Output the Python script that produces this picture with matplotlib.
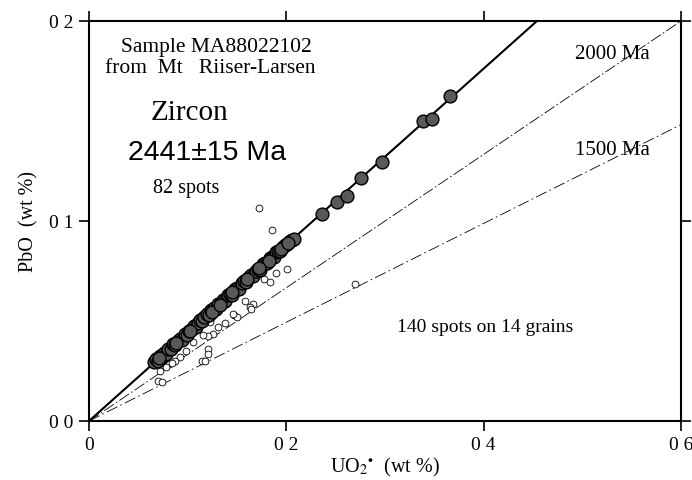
import matplotlib
matplotlib.use("Agg")
import matplotlib.pyplot as plt

plt.rcParams['font.family'] = ['Liberation Serif', 'DejaVu Serif']
plt.rcParams['mathtext.fontset'] = 'stix'

# Concordant zircon spots (filled)
filled_x = [0.066, 0.068, 0.070, 0.072, 0.074, 0.076, 0.078, 0.080, 0.083, 0.085,
            0.087, 0.090, 0.092, 0.094, 0.097, 0.099, 0.101, 0.104, 0.106, 0.108,
            0.110, 0.113, 0.115, 0.117, 0.120, 0.122, 0.124, 0.127, 0.129, 0.131,
            0.134, 0.136, 0.138, 0.141, 0.143, 0.145, 0.148, 0.150, 0.152, 0.155,
            0.157, 0.159, 0.162, 0.164, 0.166, 0.169, 0.171, 0.173, 0.176, 0.178,
            0.180, 0.183, 0.185, 0.187, 0.190, 0.192, 0.194, 0.197, 0.199, 0.201,
            0.204, 0.206, 0.208, 0.125, 0.133, 0.182, 0.195, 0.071, 0.088, 0.102,
            0.145, 0.160, 0.172, 0.202,
            0.236, 0.251, 0.261, 0.276, 0.297, 0.339, 0.348, 0.366]
filled_y = [0.0295, 0.0310, 0.0300, 0.0325, 0.0320, 0.0340, 0.0335, 0.0360, 0.0362, 0.0385,
            0.0378, 0.0400, 0.0412, 0.0405, 0.0435, 0.0430, 0.0452, 0.0460, 0.0475, 0.0468,
            0.0490, 0.0505, 0.0498, 0.0522, 0.0535, 0.0530, 0.0555, 0.0565, 0.0560, 0.0585,
            0.0592, 0.0605, 0.0600, 0.0628, 0.0635, 0.0632, 0.0658, 0.0665, 0.0662, 0.0690,
            0.0700, 0.0695, 0.0722, 0.0730, 0.0725, 0.0752, 0.0760, 0.0755, 0.0785, 0.0792,
            0.0788, 0.0815, 0.0822, 0.0818, 0.0845, 0.0852, 0.0848, 0.0872, 0.0880, 0.0885,
            0.0900, 0.0905, 0.0912, 0.0545, 0.0578, 0.0800, 0.0862, 0.0315, 0.0392, 0.0448,
            0.0645, 0.0710, 0.0765, 0.0892,
            0.1035, 0.1095, 0.1125, 0.1215, 0.1295, 0.1500, 0.1510, 0.1625]

# Other spots (open)
open_x = [0.172, 0.185, 0.190, 0.2006, 0.177, 0.183, 0.166, 0.163, 0.164, 0.147,
          0.150, 0.138, 0.131, 0.123, 0.126, 0.121, 0.116, 0.121, 0.121, 0.105,
          0.098, 0.092, 0.087, 0.081, 0.075, 0.072, 0.115, 0.118, 0.270, 0.070,
          0.074, 0.158, 0.146, 0.078, 0.084]
open_y = [0.1065, 0.0955, 0.0740, 0.0760, 0.0710, 0.0695, 0.0585, 0.0570, 0.0560, 0.0530,
          0.0520, 0.0490, 0.0470, 0.0495, 0.0435, 0.0425, 0.0430, 0.0360, 0.0335, 0.0395,
          0.0350, 0.0320, 0.0300, 0.0285, 0.0275, 0.0250, 0.0300, 0.0300, 0.0685, 0.0200,
          0.0195, 0.0600, 0.0535, 0.0270, 0.0290]

# Reference isochron slopes (PbO/UO2*)
age_labels = ['2441±15 Ma', '2000 Ma', '1500 Ma']
slopes = [0.4405, 0.3333, 0.2470]

x_ticks = [0.0, 0.2, 0.4, 0.6]
x_ticklabels = ['0', '0 2', '0 4', '0 6']
y_ticks = [0.0, 0.1, 0.2]
y_ticklabels = ['0 0', '0 1', '0 2']

fig = plt.figure(figsize=(6.92, 4.81), dpi=100)
ax = fig.add_axes([89/692, 1-422/481, (681-89)/692, (422-22)/481])
ax.set_xlim(0, 0.6)
ax.set_ylim(0, 0.2)

# lines
xm = [0, 0.6]
ax.plot(xm, [0, slopes[0]*0.6], color='black', lw=1.5, zorder=3)
ax.plot(xm, [0, slopes[1]*0.6], color='black', lw=0.6, dashes=(14, 3, 2, 3), zorder=2)
ax.plot(xm, [0, slopes[2]*0.6], color='black', lw=0.6, dashes=(14, 4, 2, 4), zorder=2)

ax.scatter(open_x, open_y, s=24, facecolors='white', edgecolors='black', linewidths=0.6, zorder=4)
ax.scatter(filled_x, filled_y, s=85, facecolors='0.35', edgecolors='black', linewidths=1.0, zorder=5)

ax.set_xticks(x_ticks)
ax.set_xticklabels(x_ticklabels)
ax.set_yticks(y_ticks)
ax.set_yticklabels(y_ticklabels)
ax.tick_params(direction='out', length=7, width=1.2, labelsize=14, pad=4,
               top=True, right=True, labeltop=False, labelright=False)
for sp in ax.spines.values():
    sp.set_linewidth(1.5)

ax.set_xlabel(r'UO$_2$$^{\bullet}$  (wt %)', fontsize=14.5, labelpad=1)
ax.set_ylabel('PbO  (wt %)', fontsize=14.5, labelpad=8)

ax.text(0.1287, 0.187, 'Sample MA88022102', fontsize=15.5, ha='center', va='center')
ax.text(0.1226, 0.1765, 'from  Mt   Riiser-Larsen', fontsize=15.5, ha='center', va='center')
ax.text(0.102, 0.1545, 'Zircon', fontsize=21, ha='center', va='center')
ax.text(0.1196, 0.1345, age_labels[0], fontsize=20.5, ha='center', va='center',
        family=['Liberation Sans', 'DejaVu Sans'])
ax.text(0.098, 0.1165, '82 spots', fontsize=14.5, ha='center', va='center')
ax.text(0.4925, 0.1835, age_labels[1], fontsize=15, ha='left', va='center')
ax.text(0.4925, 0.1355, age_labels[2], fontsize=15, ha='left', va='center')
ax.text(0.401, 0.047, '140 spots on 14 grains', fontsize=14, ha='center', va='center')

fig.savefig('out.png', dpi=100)
